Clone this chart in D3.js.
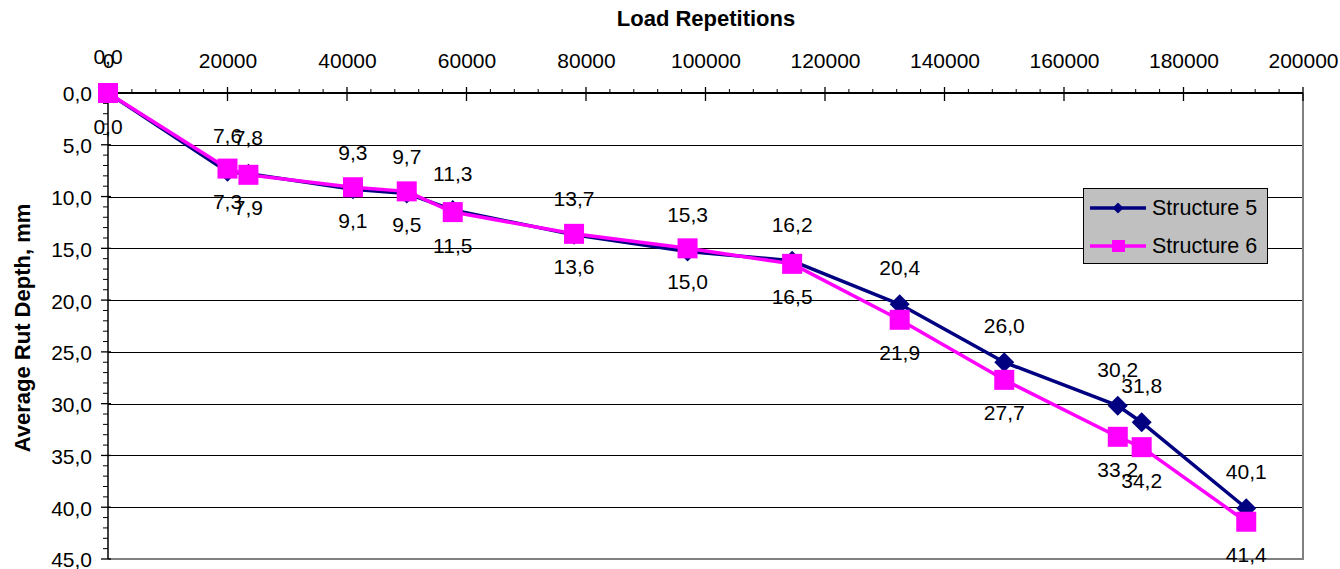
<!DOCTYPE html>
<html>
<head>
<meta charset="utf-8">
<script src="https://cdn.jsdelivr.net/npm/d3@7"></script>
<style>
  html, body { margin: 0; padding: 0; background: #fff; }
  svg { display: block; font-family: "Liberation Sans", Arial, sans-serif; }
</style>
</head>
<body>
<svg id="chart" width="1340" height="569"></svg>
<script>
// Load repetitions at each measurement
const loads = [0, 20000, 23500, 41000, 50000, 57700, 78000, 97000, 114500, 132500, 150000, 169000, 173000, 190500];
// Average rut depth (mm) per structure
const structure5 = [0.0, 7.6, 7.8, 9.3, 9.7, 11.3, 13.7, 15.3, 16.2, 20.4, 26.0, 30.2, 31.8, 40.1];
const structure6 = [0.0, 7.3, 7.9, 9.1, 9.5, 11.5, 13.6, 15.0, 16.5, 21.9, 27.7, 33.2, 34.2, 41.4];
// Axis ticks
const xTicks = [0, 20000, 40000, 60000, 80000, 100000, 120000, 140000, 160000, 180000, 200000];
const yTicks = [0, 5, 10, 15, 20, 25, 30, 35, 40, 45];
const seriesNames = ["Structure 5", "Structure 6"];

const svg = d3.select("#chart");
const plotLeft = 108, plotRight = 1303, plotTop = 93, plotBottom = 559;
const FS = 21;

const x = d3.scaleLinear().domain([0, 200000]).range([plotLeft, plotRight]);
const y = d3.scaleLinear().domain([0, 45]).range([plotTop, plotBottom]);

const comma = d3.formatLocale({decimal: ",", thousands: ".", grouping: [3], currency: ["", ""]});
const fmt1 = comma.format(".1f");

// Horizontal gridlines
svg.append("g").selectAll("line")
  .data(yTicks.filter(d => d > 0 && d < 45))
  .join("line")
  .attr("x1", plotLeft).attr("x2", plotRight)
  .attr("y1", d => Math.round(y(d)) + 0.5).attr("y2", d => Math.round(y(d)) + 0.5)
  .attr("stroke", "#000").attr("stroke-width", 1);

// Plot frame: right and bottom edges
svg.append("path")
  .attr("d", `M${plotRight},${plotTop} V${plotBottom} H${plotLeft}`)
  .attr("fill", "none").attr("stroke", "#808080").attr("stroke-width", 2);

// Top x axis
const xAxis = d3.axisTop(x).tickValues(xTicks).tickFormat(d3.format("d"))
  .tickSizeInner(0).tickSizeOuter(0).tickPadding(25);
const gx = svg.append("g").attr("transform", `translate(0,${plotTop})`).call(xAxis);
gx.select(".domain").remove();
gx.selectAll("text").attr("font-size", FS).attr("fill", "#000").attr("font-family", "Liberation Sans, Arial, sans-serif");
gx.append("g").selectAll("line").data(d3.range(0, 200001, 4000).filter(d => d % 20000 !== 0))
  .join("line").attr("x1", d => x(d)).attr("x2", d => x(d)).attr("y1", -4).attr("y2", 0)
  .attr("stroke", "#000").attr("stroke-width", 1);
gx.append("g").selectAll("line").data(xTicks.filter(d => d > 0))
  .join("line").attr("x1", d => x(d)).attr("x2", d => x(d)).attr("y1", -6).attr("y2", 8)
  .attr("stroke", "#000").attr("stroke-width", 1.3);
gx.append("line").attr("x1", plotLeft).attr("x2", plotRight).attr("y1", 0).attr("y2", 0)
  .attr("stroke", "#000").attr("stroke-width", 2);

// Left y axis
const yAxis = d3.axisLeft(y).tickValues(yTicks).tickFormat(fmt1)
  .tickSizeInner(0).tickSizeOuter(0).tickPadding(16);
const gy = svg.append("g").attr("transform", `translate(${plotLeft},0)`).call(yAxis);
gy.select(".domain").remove();
gy.selectAll("text").attr("font-size", FS).attr("fill", "#000").attr("dy", "0.38em")
  .attr("font-family", "Liberation Sans, Arial, sans-serif");
gy.append("g").selectAll("line").data(d3.range(0, 46, 1).filter(d => d % 5 !== 0))
  .join("line").attr("x1", -5).attr("x2", 0).attr("y1", d => y(d)).attr("y2", d => y(d))
  .attr("stroke", "#000").attr("stroke-width", 1);
gy.append("g").selectAll("line").data(yTicks.filter(d => d > 0))
  .join("line").attr("x1", -7).attr("x2", 3).attr("y1", d => y(d)).attr("y2", d => y(d))
  .attr("stroke", "#000").attr("stroke-width", 1.3);
gy.append("line").attr("x1", 0).attr("x2", 0).attr("y1", plotTop).attr("y2", plotBottom)
  .attr("stroke", "#000").attr("stroke-width", 1.5);

// Axis titles
svg.append("text").attr("x", 706).attr("y", 26).attr("text-anchor", "middle")
  .attr("font-size", 22).attr("font-weight", "bold").text("Load Repetitions");
svg.append("text").attr("transform", "translate(30,328) rotate(-90)").attr("text-anchor", "middle")
  .attr("font-size", 22).attr("font-weight", "bold").text("Average Rut Depth, mm");

const line = d3.line().x(d => x(d[0])).y(d => y(d[1]));
const pts5 = loads.map((l, i) => [l, structure5[i]]);
const pts6 = loads.map((l, i) => [l, structure6[i]]);
const diamond = r => `M0,${-r} L${r},0 L0,${r} L${-r},0 Z`;

// Structure 5
svg.append("path").datum(pts5).attr("d", line)
  .attr("fill", "none").attr("stroke", "#000080").attr("stroke-width", 3.5).attr("stroke-linejoin", "round");
svg.append("g").selectAll("path").data(pts5).join("path")
  .attr("transform", d => `translate(${x(d[0])},${y(d[1])})`)
  .attr("d", diamond(10)).attr("fill", "#000080");

// Structure 6
svg.append("path").datum(pts6).attr("d", line)
  .attr("fill", "none").attr("stroke", "#FF00FF").attr("stroke-width", 3.5).attr("stroke-linejoin", "round");
svg.append("g").selectAll("rect").data(pts6).join("rect")
  .attr("x", d => x(d[0]) - 10).attr("y", d => y(d[1]) - 10)
  .attr("width", 20).attr("height", 20).attr("fill", "#FF00FF");

// Value labels: Structure 5 above, Structure 6 below
svg.append("g").selectAll("text").data(pts5).join("text")
  .attr("x", d => x(d[0])).attr("y", d => y(d[1]) - 29)
  .attr("text-anchor", "middle").attr("font-size", FS).text(d => fmt1(d[1]));
svg.append("g").selectAll("text").data(pts6).join("text")
  .attr("x", d => x(d[0])).attr("y", d => y(d[1]) + 40.5)
  .attr("text-anchor", "middle").attr("font-size", FS).text(d => fmt1(d[1]));

// Legend
const lg = svg.append("g");
lg.append("rect").attr("x", 1083.5).attr("y", 188.5).attr("width", 184).attr("height", 75)
  .attr("fill", "#C0C0C0").attr("stroke", "#000").attr("stroke-width", 1);
const legendRows = [
  {name: seriesNames[0], color: "#000080", cy: 208, marker: "diamond"},
  {name: seriesNames[1], color: "#FF00FF", cy: 246, marker: "square"}
];
legendRows.forEach(r => {
  lg.append("line").attr("x1", 1090).attr("x2", 1146).attr("y1", r.cy).attr("y2", r.cy)
    .attr("stroke", r.color).attr("stroke-width", 3.3);
  if (r.marker === "diamond") {
    lg.append("path").attr("transform", `translate(1118,${r.cy})`).attr("d", diamond(5.5)).attr("fill", r.color);
  } else {
    lg.append("rect").attr("x", 1112).attr("y", r.cy - 6).attr("width", 13).attr("height", 12).attr("fill", r.color);
  }
  lg.append("text").attr("x", 1152).attr("y", r.cy + 7).attr("font-size", 21.5).text(r.name);
});
</script>
</body>
</html>
